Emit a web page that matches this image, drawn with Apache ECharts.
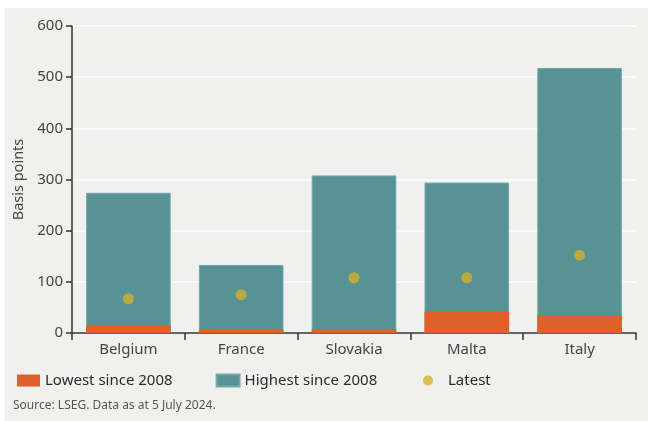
<!DOCTYPE html>
<html><head><meta charset="utf-8">
<script src="https://cdn.jsdelivr.net/npm/echarts@6/dist/echarts.min.js"></script>
<style>
html,body{margin:0;padding:0;background:#fff;}
#c{position:absolute;left:5px;top:8px;width:643px;height:413px;}
</style></head>
<body><div id="c"></div>
<script>
const categories = ['Belgium','France','Slovakia','Malta','Italy'];
const lowest = [15, 7, 8, 42, 35];
const highest = [274, 133, 308, 294, 518];
const latest = [67, 75, 108, 108, 152];
const yTicks = [0, 100, 200, 300, 400, 500, 600];

const FONT = '"Noto Sans", "Open Sans", sans-serif';
const chart = echarts.init(document.getElementById('c'), null, {renderer:'canvas'});
chart.setOption({
  backgroundColor: '#f0f0ee',
  animation: false,
  textStyle: {fontFamily: FONT},
  grid: {left: 67, right: 12, top: 18, bottom: 88, containLabel: false, outerBoundsMode: 'none'},
  legend: [
    {left: 7, top: 360, itemWidth: 23, itemHeight: 12, itemGap: 43,
     data: [{name:'Lowest since 2008', icon:'rect'}, {name:'Highest since 2008', icon:'rect'}],
     textStyle: {fontSize: 15, color: '#2a2a2a', fontFamily: FONT}},
    {left: 413, top: 360, itemWidth: 10, itemHeight: 10,
     data: [{name:'Latest', icon:'circle'}],
     textStyle: {fontSize: 15, color: '#2a2a2a', fontFamily: FONT, padding:[0,0,0,10]}}
  ],
  graphic: [{type:'text', left: 8, top: 392, style:{text:'Source: LSEG. Data as at 5 July 2024.', fontSize: 12, fill:'#555', fontFamily: FONT}}],
  xAxis: {
    type: 'category', data: categories,
    axisLine: {lineStyle: {color: '#333', width: 1.5}},
    axisTick: {show: true, length: 7, lineStyle: {color:'#333', width: 1.5}},
    axisLabel: {fontSize: 15, color: '#444', margin: 9, fontFamily: FONT}
  },
  yAxis: {
    type: 'value', min: yTicks[0], max: yTicks[yTicks.length-1], interval: 100,
    name: 'Basis points', nameLocation: 'middle', nameGap: 46, nameRotate: 90,
    nameTextStyle: {fontSize: 14.5, color: '#444', fontFamily: FONT},
    axisLine: {show: true, lineStyle: {color: '#333', width: 1.5}},
    axisTick: {show: true, length: 6, lineStyle: {color:'#333', width: 1.5}},
    axisLabel: {fontSize: 15, color: '#444', margin: 9, fontFamily: FONT},
    splitLine: {lineStyle: {color: '#ffffff', width: 1.5}}
  },
  series: [
    {name: 'Highest since 2008', type: 'bar', data: highest, barWidth: '75%', barGap: '-100%', z: 2,
     itemStyle: {color: '#579395', borderColor: '#73a7a8', borderWidth: 1}},
    {name: 'Lowest since 2008', type: 'bar', data: lowest, barWidth: '75%', barGap: '-100%', z: 3,
     itemStyle: {color: '#dc6229'}},
    {name: 'Latest', type: 'scatter', data: latest, symbolSize: 11, z: 4,
     itemStyle: {color: '#d6b02a'}}
  ]
});
</script></body></html>
